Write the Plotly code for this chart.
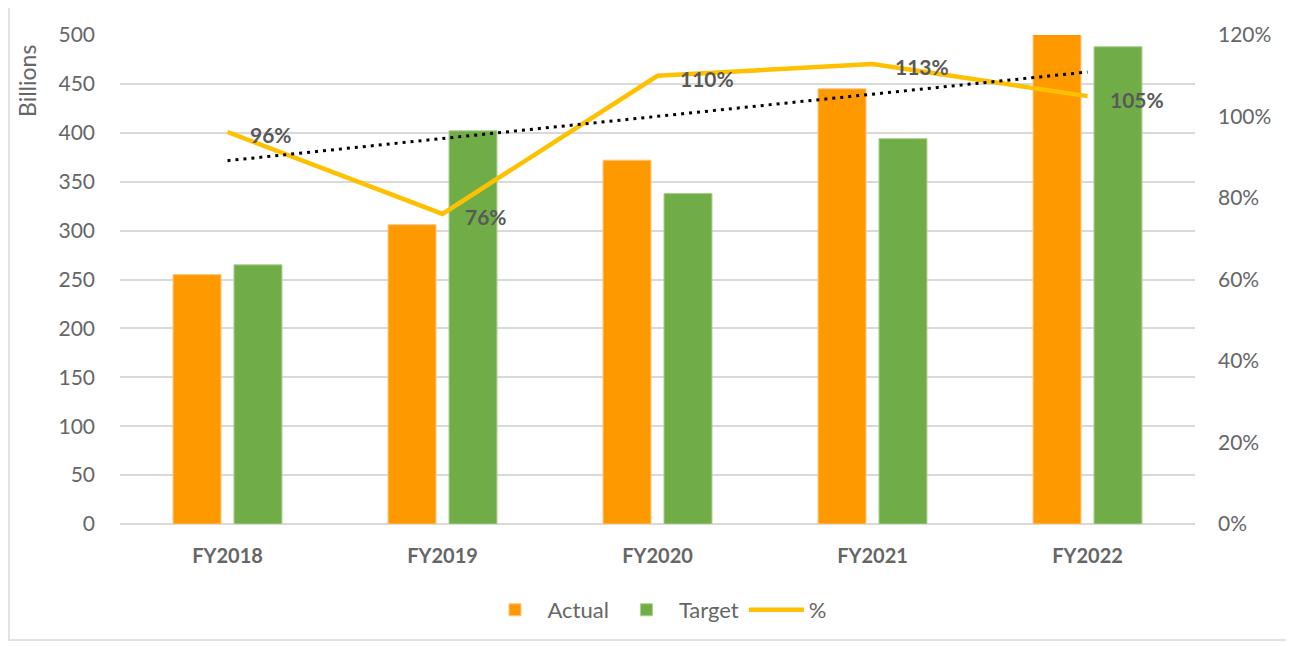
import numpy as np
import plotly.graph_objects as go

categories = ["FY2018", "FY2019", "FY2020", "FY2021", "FY2022"]
actual = [255, 306, 372, 445, 512]
target = [265, 402, 338, 394, 488]
pct = [0.962, 0.761, 1.100, 1.129, 1.050]
pct_labels = ["96%", "76%", "110%", "113%", "105%"]
left_ticks = list(range(0, 501, 50))
right_ticks = [0, 0.2, 0.4, 0.6, 0.8, 1.0, 1.2]

FONT = "Lato"
GRAY = "#595959"
TICK = "#666666"

OFF = 8  # page body margin
W, H = 1294 - OFF, 646 - OFF
L, T = 120 - OFF, 35 - OFF
PR, PB = 1195 - OFF, 524 - OFF
R, B = W - PR, H - PB
pw, ph = W - L - R, H - T - B

def px_x(x):
    return (x - OFF - L) / pw

def px_y(y):
    return (PB - (y - OFF)) / ph

# linear trendline of the percent series
xi = np.arange(len(pct))
slope, icpt = np.polyfit(xi, pct, 1)
trend = [icpt + slope * i for i in xi]

fig = go.Figure()
fig.add_trace(go.Bar(x=categories, y=actual, name="Actual",
                     marker=dict(color="#FF9900", line=dict(color="#FFC680", width=1))))
fig.add_trace(go.Bar(x=categories, y=target, name="Target",
                     marker=dict(color="#70AD47", line=dict(color="#A9D18E", width=1))))
fig.add_trace(go.Scatter(x=categories, y=pct, name="%", yaxis="y2", mode="lines",
                         line=dict(color="#FFC000", width=4.5)))
fig.add_trace(go.Scatter(x=categories, y=trend, yaxis="y2", mode="lines", showlegend=False,
                         line=dict(color="#000000", width=3, dash="3px,5px"), hoverinfo="skip"))

annotations = []
for c, p, lab in zip(categories, pct, pct_labels):
    annotations.append(dict(x=c, y=p, xref="x", yref="y2", text=f"<b>{lab}</b>",
                            showarrow=False, xanchor="left", yanchor="middle",
                            xshift=20, yshift=-3,
                            font=dict(family=FONT, size=21, color=GRAY)))
annotations.append(dict(x=px_x(27), y=px_y(43), xref="paper", yref="paper",
                        text="Billions", textangle=-90, showarrow=False,
                        xanchor="center", yanchor="top",
                        font=dict(family=FONT, size=23, color=TICK)))

fig.update_layout(
    width=W, height=H,
    margin=dict(l=L, r=R, t=T, b=B),
    paper_bgcolor="white", plot_bgcolor="white",
    font=dict(family=FONT, size=21, color=TICK),
    barmode="group", bargap=0.433, bargroupgap=0.213,
    xaxis=dict(type="category", showgrid=False, showline=False, ticks="",
               tickfont=dict(family=FONT, size=20, color=TICK, weight="bold"),
               ticklabelstandoff=18),
    yaxis=dict(range=[0, 500], tickvals=left_ticks, showgrid=True, gridcolor="#D9D9D9",
               gridwidth=1.5, zeroline=True, zerolinecolor="#D9D9D9", zerolinewidth=1.5,
               showline=False, ticks="", ticklabelstandoff=24,
               tickfont=dict(family=FONT, size=21, color=TICK)),
    yaxis2=dict(range=[0, 1.2], tickvals=right_ticks, tickformat=".0%", overlaying="y",
                side="right", showgrid=False, zeroline=False, showline=False, ticks="",
                ticklabelstandoff=22, tickfont=dict(family=FONT, size=21, color=TICK)),
    legend=dict(orientation="h", x=0.5, xanchor="center", y=px_y(610), yanchor="middle",
                font=dict(family=FONT, size=22, color=TICK), itemwidth=55,
                traceorder="normal"),
    annotations=annotations,
    shapes=[dict(type="rect", xref="paper", yref="paper",
                 x0=px_x(9), x1=px_x(1288), y0=px_y(640), y1=px_y(6),
                 line=dict(color="#D9D9D9", width=1.5), layer="below")],
    showlegend=True,
)

fig.write_html("out.html")
